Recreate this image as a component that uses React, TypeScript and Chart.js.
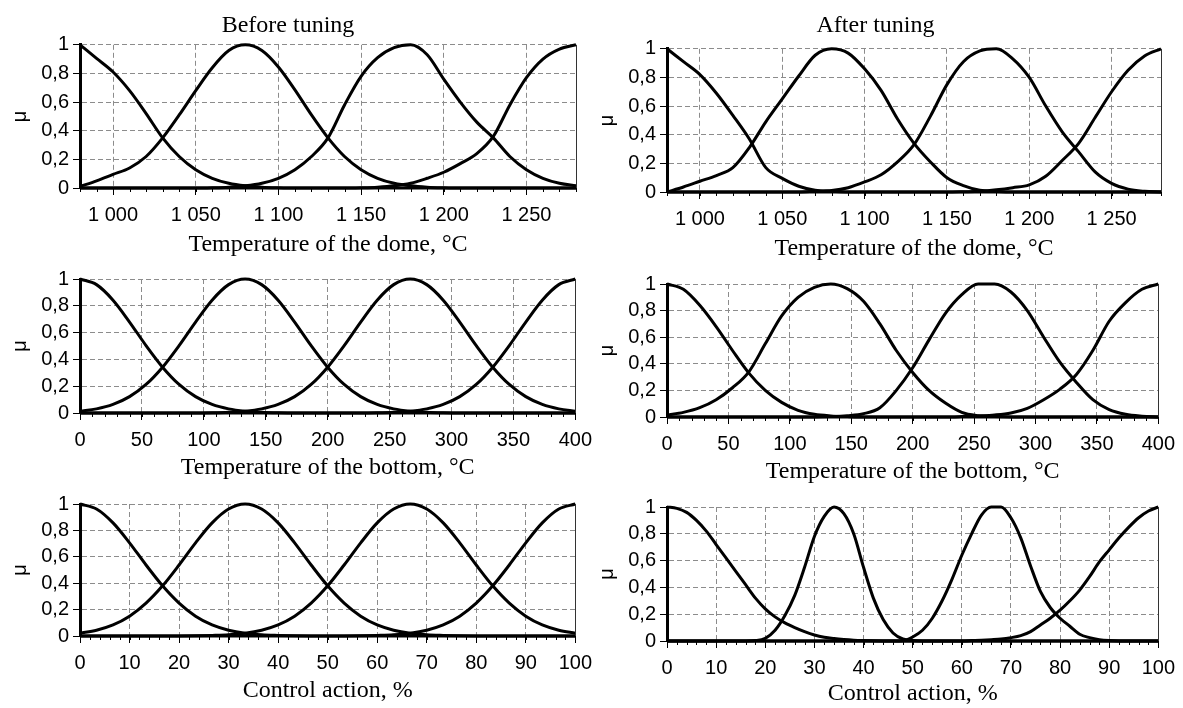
import React, { useEffect, useRef } from "react";
import { Chart, registerables } from "chart.js";

Chart.register(...registerables);

const SANS = '"Liberation Sans", Arial, sans-serif';
const SERIF = '"Liberation Serif", "Times New Roman", serif';

// ---------- axis ticks ----------
const Y_TICKS = [0, 0.2, 0.4, 0.6, 0.8, 1];
const Y_TICK_LABELS = ["0", "0,2", "0,4", "0,6", "0,8", "1"];

const DOME_TICKS = [1000, 1050, 1100, 1150, 1200, 1250];
const DOME_TICK_LABELS = ["1 000", "1 050", "1 100", "1 150", "1 200", "1 250"];
const BOTTOM_TICKS = [0, 50, 100, 150, 200, 250, 300, 350, 400];
const BOTTOM_TICK_LABELS = ["0", "50", "100", "150", "200", "250", "300", "350", "400"];
const CONTROL_TICKS = [0, 10, 20, 30, 40, 50, 60, 70, 80, 90, 100];
const CONTROL_TICK_LABELS = ["0", "10", "20", "30", "40", "50", "60", "70", "80", "90", "100"];

// ---------- x samples ----------
const DOME_X = [980, 990, 1000, 1010, 1020, 1030, 1040, 1050, 1060, 1070, 1080, 1090, 1100, 1110, 1120, 1130, 1140, 1150, 1160, 1170, 1180, 1190, 1200, 1210, 1220, 1230, 1240, 1250, 1260, 1270, 1280];
const BOTTOM_X = [0, 13.33, 26.67, 40, 53.33, 66.67, 80, 93.33, 106.67, 120, 133.33, 146.67, 160, 173.33, 186.67, 200, 213.33, 226.67, 240, 253.33, 266.67, 280, 293.33, 306.67, 320, 333.33, 346.67, 360, 373.33, 386.67, 400];
const CONTROL_X_BEFORE = [0, 3.33, 6.67, 10, 13.33, 16.67, 20, 23.33, 26.67, 30, 33.33, 36.67, 40, 43.33, 46.67, 50, 53.33, 56.67, 60, 63.33, 66.67, 70, 73.33, 76.67, 80, 83.33, 86.67, 90, 93.33, 96.67, 100];
const CONTROL_X_AFTER = [0, 2, 4, 6, 8, 10, 12, 14, 16, 18, 20, 22, 24, 26, 28, 30, 32, 34, 36, 38, 40, 42, 44, 46, 48, 50, 52, 54, 56, 58, 60, 62, 64, 66, 68, 70, 72, 74, 76, 78, 80, 82, 84, 86, 88, 90, 92, 94, 96, 98, 100];

// ---------- Before tuning: dome ----------
const DOME_B1 = [1, 0.905, 0.81, 0.68, 0.52, 0.35, 0.22, 0.128, 0.068, 0.033, 0.015, 0.006, 0.002, 0, 0, 0, 0, 0, 0, 0, 0, 0, 0, 0, 0, 0, 0, 0, 0, 0, 0];
const DOME_B2 = [0.01, 0.05, 0.095, 0.14, 0.22, 0.35, 0.51, 0.68, 0.84, 0.96, 1, 0.96, 0.845, 0.685, 0.51, 0.35, 0.22, 0.128, 0.068, 0.033, 0.015, 0.006, 0.002, 0, 0, 0, 0, 0, 0, 0, 0];
const DOME_B3 = [0, 0, 0, 0, 0, 0, 0, 0, 0.002, 0.006, 0.015, 0.033, 0.068, 0.128, 0.22, 0.35, 0.58, 0.78, 0.91, 0.98, 1, 0.93, 0.76, 0.6, 0.46, 0.35, 0.22, 0.128, 0.068, 0.033, 0.015];
const DOME_B4 = [0, 0, 0, 0, 0, 0, 0, 0, 0, 0, 0, 0, 0, 0, 0, 0, 0, 0.002, 0.006, 0.015, 0.033, 0.068, 0.11, 0.17, 0.24, 0.36, 0.58, 0.77, 0.9, 0.97, 1];

// ---------- After tuning: dome ----------
const DOME_A1 = [1, 0.91, 0.82, 0.69, 0.535, 0.37, 0.17, 0.095, 0.04, 0.012, 0.005, 0, 0, 0, 0, 0, 0, 0, 0, 0, 0, 0, 0, 0, 0, 0, 0, 0, 0, 0, 0];
const DOME_A2 = [0, 0.035, 0.075, 0.115, 0.17, 0.31, 0.49, 0.65, 0.81, 0.955, 1, 0.97, 0.86, 0.71, 0.51, 0.34, 0.21, 0.1, 0.045, 0.012, 0.004, 0, 0, 0, 0, 0, 0, 0, 0, 0, 0];
const DOME_A3 = [0, 0, 0, 0, 0, 0, 0, 0, 0, 0.005, 0.01, 0.03, 0.07, 0.12, 0.21, 0.33, 0.53, 0.75, 0.91, 0.985, 1, 0.93, 0.8, 0.6, 0.42, 0.28, 0.14, 0.06, 0.02, 0.005, 0];
const DOME_A4 = [0, 0, 0, 0, 0, 0, 0, 0, 0, 0, 0, 0, 0, 0, 0, 0, 0, 0, 0.002, 0.005, 0.015, 0.03, 0.05, 0.11, 0.22, 0.34, 0.52, 0.7, 0.85, 0.95, 1];

// ---------- Before tuning: bottom ----------
const BOT_B1 = [1, 0.958, 0.842, 0.679, 0.503, 0.342, 0.213, 0.122, 0.064, 0.031, 0.014, 0.006, 0.002, 0, 0, 0, 0, 0, 0, 0, 0, 0, 0, 0, 0, 0, 0, 0, 0, 0, 0];
const BOT_B2 = [0.014, 0.031, 0.064, 0.122, 0.213, 0.342, 0.503, 0.679, 0.842, 0.958, 1, 0.958, 0.842, 0.679, 0.503, 0.342, 0.213, 0.122, 0.064, 0.031, 0.014, 0.006, 0.002, 0, 0, 0, 0, 0, 0, 0, 0];
const BOT_B3 = [0, 0, 0, 0, 0, 0, 0, 0, 0.002, 0.006, 0.014, 0.031, 0.064, 0.122, 0.213, 0.342, 0.503, 0.679, 0.842, 0.958, 1, 0.958, 0.842, 0.679, 0.503, 0.342, 0.213, 0.122, 0.064, 0.031, 0.014];
const BOT_B4 = [0, 0, 0, 0, 0, 0, 0, 0, 0, 0, 0, 0, 0, 0, 0, 0, 0, 0, 0.002, 0.006, 0.014, 0.031, 0.064, 0.122, 0.213, 0.342, 0.503, 0.679, 0.842, 0.958, 1];

// ---------- After tuning: bottom ----------
const BOT_A1 = [1, 0.96, 0.84, 0.68, 0.5, 0.33, 0.2, 0.11, 0.05, 0.02, 0.008, 0.003, 0, 0, 0, 0, 0, 0, 0, 0, 0, 0, 0, 0, 0, 0, 0, 0, 0, 0, 0];
const BOT_A2 = [0.015, 0.035, 0.07, 0.13, 0.22, 0.34, 0.55, 0.76, 0.9, 0.975, 1, 0.965, 0.87, 0.7, 0.5, 0.335, 0.2, 0.105, 0.035, 0.01, 0.003, 0, 0, 0, 0, 0, 0, 0, 0, 0, 0];
const BOT_A3 = [0, 0, 0, 0, 0, 0, 0, 0, 0, 0, 0.003, 0.01, 0.025, 0.07, 0.2, 0.37, 0.58, 0.78, 0.92, 1, 1, 0.94, 0.8, 0.6, 0.41, 0.26, 0.13, 0.055, 0.02, 0.006, 0];
const BOT_A4 = [0, 0, 0, 0, 0, 0, 0, 0, 0, 0, 0, 0, 0, 0, 0, 0, 0, 0, 0.003, 0.008, 0.015, 0.03, 0.065, 0.13, 0.21, 0.32, 0.5, 0.72, 0.86, 0.96, 1];

// ---------- Before tuning: control action ----------
const CTL_B1 = [1, 0.962, 0.857, 0.706, 0.538, 0.38, 0.249, 0.15, 0.084, 0.044, 0.021, 0.009, 0.004, 0.001, 0, 0, 0, 0, 0, 0, 0, 0, 0, 0, 0, 0, 0, 0, 0, 0, 0];
const CTL_B2 = [0.021, 0.044, 0.084, 0.15, 0.249, 0.38, 0.538, 0.706, 0.857, 0.962, 1, 0.962, 0.857, 0.706, 0.538, 0.38, 0.249, 0.15, 0.084, 0.044, 0.021, 0.009, 0.004, 0.001, 0, 0, 0, 0, 0, 0, 0];
const CTL_B3 = [0, 0, 0, 0, 0, 0, 0, 0.001, 0.004, 0.009, 0.021, 0.044, 0.084, 0.15, 0.249, 0.38, 0.538, 0.706, 0.857, 0.962, 1, 0.962, 0.857, 0.706, 0.538, 0.38, 0.249, 0.15, 0.084, 0.044, 0.021];
const CTL_B4 = [0, 0, 0, 0, 0, 0, 0, 0, 0, 0, 0, 0, 0, 0, 0, 0, 0, 0.001, 0.004, 0.009, 0.021, 0.044, 0.084, 0.15, 0.249, 0.38, 0.538, 0.706, 0.857, 0.962, 1];

// ---------- After tuning: control action ----------
const CTL_A1 = [1, 0.99, 0.96, 0.9, 0.82, 0.72, 0.62, 0.52, 0.42, 0.32, 0.24, 0.18, 0.135, 0.1, 0.07, 0.045, 0.028, 0.018, 0.011, 0.006, 0.003, 0.001, 0, 0, 0, 0, 0, 0, 0, 0, 0, 0, 0, 0, 0, 0, 0, 0, 0, 0, 0, 0, 0, 0, 0, 0, 0, 0, 0, 0, 0];
const CTL_A2 = [0, 0, 0, 0, 0, 0, 0, 0, 0, 0.003, 0.02, 0.08, 0.19, 0.34, 0.55, 0.78, 0.93, 1, 0.95, 0.8, 0.55, 0.32, 0.16, 0.06, 0.015, 0.003, 0, 0, 0, 0, 0, 0, 0, 0, 0, 0, 0, 0, 0, 0, 0, 0, 0, 0, 0, 0, 0, 0, 0, 0, 0];
const CTL_A3 = [0, 0, 0, 0, 0, 0, 0, 0, 0, 0, 0, 0, 0, 0, 0, 0, 0, 0, 0, 0, 0, 0, 0, 0, 0.002, 0.03, 0.08, 0.17, 0.3, 0.46, 0.64, 0.8, 0.94, 1, 1, 0.92, 0.77, 0.56, 0.37, 0.25, 0.17, 0.11, 0.05, 0.025, 0.01, 0.003, 0, 0, 0, 0, 0];
const CTL_A4 = [0, 0, 0, 0, 0, 0, 0, 0, 0, 0, 0, 0, 0, 0, 0, 0, 0, 0, 0, 0, 0, 0, 0, 0, 0, 0, 0, 0, 0, 0, 0, 0.003, 0.006, 0.01, 0.015, 0.025, 0.04, 0.07, 0.12, 0.17, 0.23, 0.3, 0.38, 0.48, 0.59, 0.68, 0.77, 0.85, 0.92, 0.97, 1];

const COLUMN_TITLES = ["Before tuning", "After tuning"];
const X_TITLES = ["Temperature of the dome, °C", "Temperature of the bottom, °C", "Control action, %"];
const Y_TITLE = "μ";

type Spec = {
  left: number; top: number; width: number; height: number;
  padTop: number; padRight: number; yW: number; xH: number;
  muPad: number; title?: string; titlePadBottom?: number; xTitlePadBottom: number;
  xs: number[]; series: number[][];
  min: number; max: number; ticks: number[]; tickLabels: string[]; minorStep: number;
  xTitle: string;
};

const frame = {
  id: "frame",
  afterDraw(chart: any, _args: any, opts: any) {
    const { ctx, chartArea } = chart;
    const xs = chart.scales.x;
    ctx.save();
    ctx.lineWidth = 1;
    ctx.setLineDash([]);
    const rx = Math.round(chartArea.right) + 0.5;
    ctx.strokeStyle = "#333";
    ctx.beginPath();
    ctx.moveTo(rx, chartArea.top);
    ctx.lineTo(rx, chartArea.bottom);
    ctx.stroke();
    ctx.strokeStyle = "#000";
    const n = Math.round((xs.max - xs.min) / opts.step);
    for (let i = 0; i <= n; i++) {
      const v = xs.min + i * opts.step;
      const px = Math.round(xs.getPixelForValue(v)) + 0.5;
      ctx.beginPath();
      ctx.moveTo(px, chartArea.bottom);
      ctx.lineTo(px, chartArea.bottom + opts.len);
      ctx.stroke();
    }
    ctx.restore();
  },
};

function makeConfig(s: Spec): any {
  const gridCommon = {
    color: "#8c8c8c",
    lineWidth: 1,
    tickLength: 7,
    tickColor: "#000",
    tickWidth: 1,
    tickBorderDash: [],
  };
  return {
    type: "line",
    data: {
      datasets: s.series.map((ys) => ({
        data: s.xs.map((x, i) => ({ x, y: ys[i] })),
        borderColor: "#000",
        borderWidth: 3,
        pointRadius: 0,
        fill: false,
        cubicInterpolationMode: "monotone",
        clip: false,
      })),
    },
    options: {
      animation: false,
      responsive: false,
      maintainAspectRatio: false,
      events: [],
      layout: { padding: { left: 0, right: s.padRight, top: s.padTop, bottom: 0 } },
      plugins: {
        legend: { display: false },
        tooltip: { enabled: false },
        title: s.title
          ? {
              display: true,
              text: s.title,
              color: "#000",
              font: { family: SERIF, size: 24, weight: "normal" },
              padding: { top: 11, bottom: s.titlePadBottom },
            }
          : { display: false },
        frame: { step: s.minorStep, len: 4 },
      },
      scales: {
        x: {
          type: "linear",
          min: s.min,
          max: s.max,
          afterBuildTicks: (sc: any) => {
            sc.ticks = s.ticks.map((v) => ({ value: v }));
          },
          afterFit: (sc: any) => {
            sc.height = s.xH;
          },
          ticks: {
            autoSkip: false,
            maxRotation: 0,
            padding: 8,
            color: "#000",
            font: { family: SANS, size: 20 },
            callback: (v: number) => {
              const i = s.ticks.indexOf(v);
              return i >= 0 ? s.tickLabels[i] : "";
            },
          },
          grid: gridCommon,
          border: { display: true, color: "#000", width: 1, dash: [5, 3] },
          title: {
            display: true,
            text: s.xTitle,
            color: "#000",
            font: { family: SERIF, size: 24, weight: "normal" },
            padding: { top: 0, bottom: s.xTitlePadBottom },
          },
        },
        y: {
          type: "linear",
          min: 0,
          max: 1,
          afterBuildTicks: (sc: any) => {
            sc.ticks = Y_TICKS.map((v) => ({ value: v }));
          },
          afterFit: (sc: any) => {
            sc.width = s.yW;
          },
          ticks: {
            autoSkip: false,
            padding: 4,
            color: "#000",
            font: { family: SANS, size: 20 },
            callback: (v: number) => {
              const i = Y_TICKS.indexOf(v);
              return i >= 0 ? Y_TICK_LABELS[i] : "";
            },
          },
          grid: gridCommon,
          border: { display: true, color: "#000", width: 3, dash: [5, 3] },
          title: {
            display: true,
            text: Y_TITLE,
            color: "#000",
            font: { family: SANS, size: 20, weight: "normal" },
            padding: { top: s.muPad, bottom: 0 },
          },
        },
      },
    },
    plugins: [frame],
  };
}

const LEFT = { left: 0, width: 600, padRight: 24, yW: 80, muPad: 8 };
const RIGHT = { left: 590, width: 593, padRight: 22, yW: 77, muPad: 5 };

const DOME = { xs: DOME_X, min: 980, max: 1280, ticks: DOME_TICKS, tickLabels: DOME_TICK_LABELS, minorStep: 10, xTitle: X_TITLES[0] };
const BOTTOM = { xs: BOTTOM_X, min: 0, max: 400, ticks: BOTTOM_TICKS, tickLabels: BOTTOM_TICK_LABELS, minorStep: 10, xTitle: X_TITLES[1] };
const CONTROL = { min: 0, max: 100, ticks: CONTROL_TICKS, tickLabels: CONTROL_TICK_LABELS, minorStep: 2, xTitle: X_TITLES[2] };

const PANELS: Spec[] = [
  { ...LEFT, ...DOME, top: 0, height: 260, padTop: 0, xH: 72, title: COLUMN_TITLES[0], titlePadBottom: 5, xTitlePadBottom: 1, series: [DOME_B1, DOME_B2, DOME_B3, DOME_B4] },
  { ...RIGHT, ...DOME, top: 0, height: 264, padTop: 0, xH: 72, title: COLUMN_TITLES[1], titlePadBottom: 9, xTitlePadBottom: 1, series: [DOME_A1, DOME_A2, DOME_A3, DOME_A4] },
  { ...LEFT, ...BOTTOM, top: 263, height: 222, padTop: 14, xH: 72, xTitlePadBottom: 3, series: [BOT_B1, BOT_B2, BOT_B3, BOT_B4] },
  { ...RIGHT, ...BOTTOM, top: 268, height: 221, padTop: 14, xH: 72, xTitlePadBottom: 3, series: [BOT_A1, BOT_A2, BOT_A3, BOT_A4] },
  { ...LEFT, ...CONTROL, xs: CONTROL_X_BEFORE, top: 488, height: 220, padTop: 14, xH: 72, xTitlePadBottom: 3, series: [CTL_B1, CTL_B2, CTL_B3, CTL_B4] },
  { ...RIGHT, ...CONTROL, xs: CONTROL_X_AFTER, top: 491, height: 217, padTop: 14, xH: 67, xTitlePadBottom: 0, series: [CTL_A1, CTL_A2, CTL_A3, CTL_A4] },
];

function Panel({ spec }: { spec: Spec }) {
  const ref = useRef<HTMLCanvasElement>(null);
  useEffect(() => {
    const chart = new Chart(ref.current as HTMLCanvasElement, makeConfig(spec));
    return () => chart.destroy();
  }, [spec]);
  return (
    <canvas
      ref={ref}
      width={spec.width}
      height={spec.height}
      style={{ position: "absolute", left: spec.left, top: spec.top, width: spec.width, height: spec.height }}
    />
  );
}

export default function App() {
  return (
    <div style={{ position: "absolute", left: 0, top: 0, width: 1183, height: 708, overflow: "hidden", background: "#fff" }}>
      {PANELS.map((p, i) => (
        <Panel key={i} spec={p} />
      ))}
    </div>
  );
}
